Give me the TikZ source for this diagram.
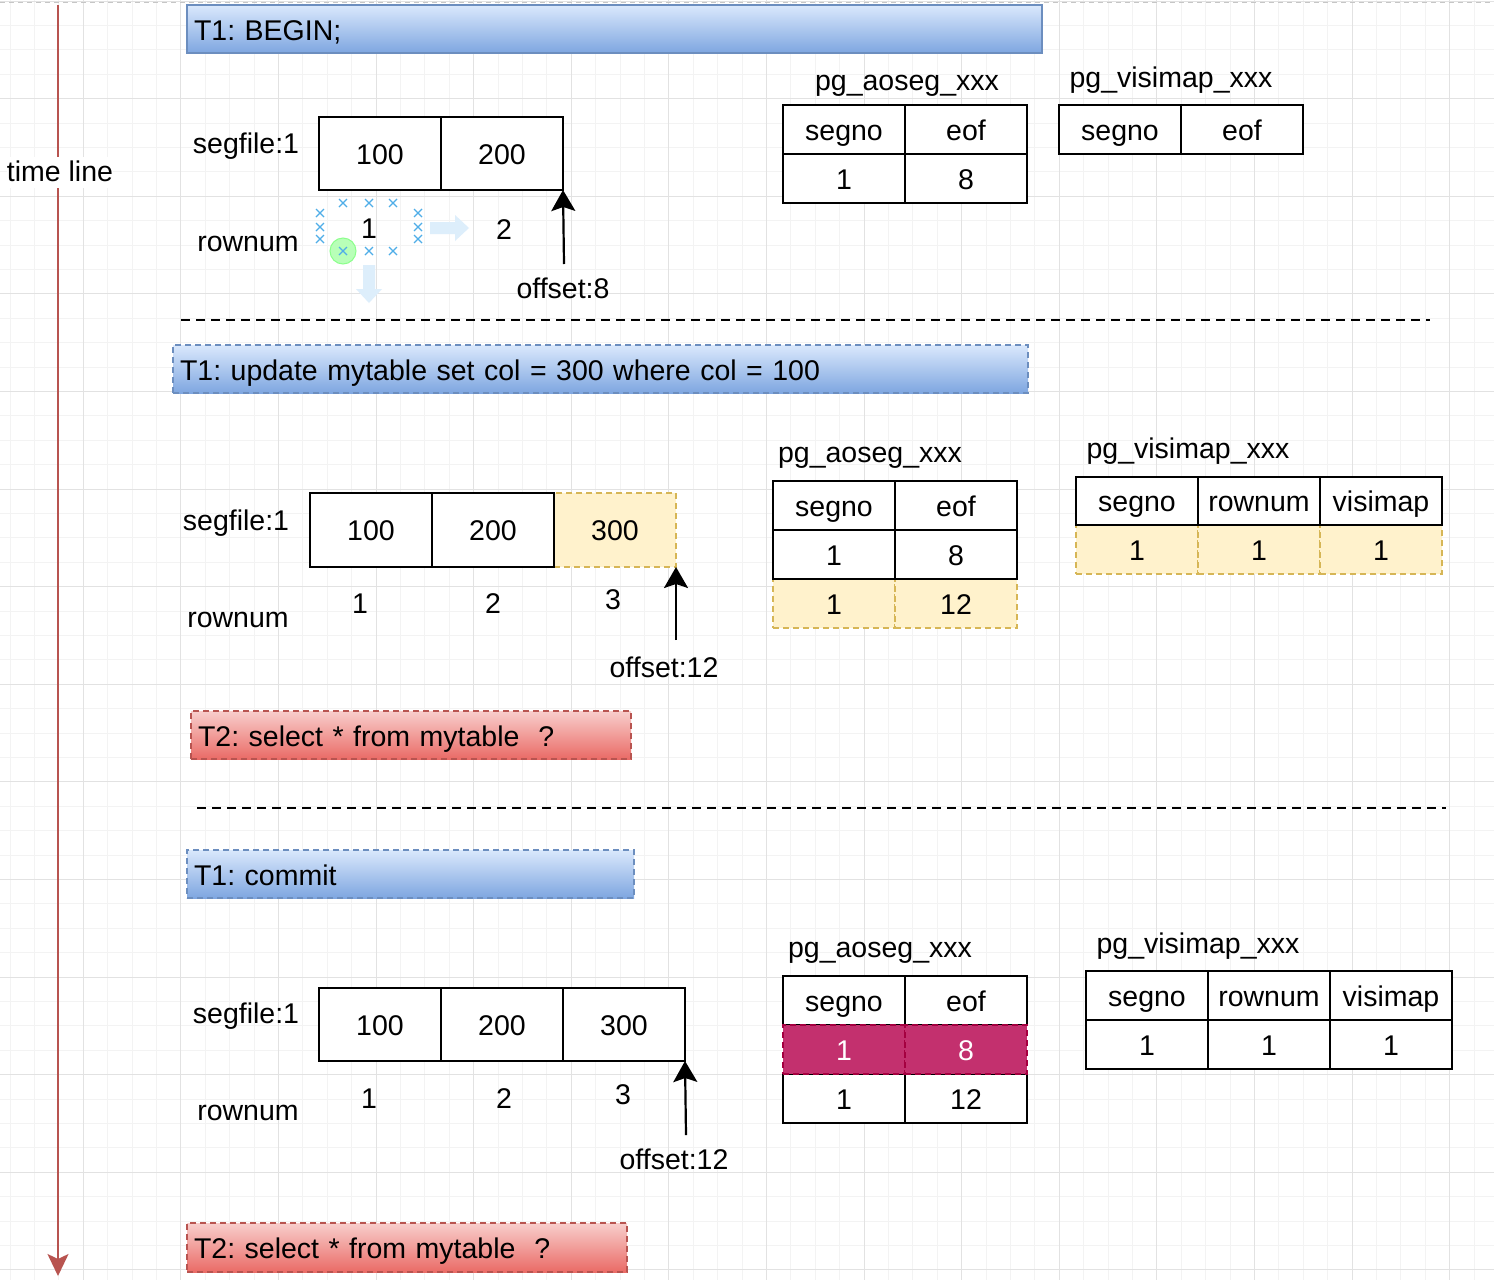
\documentclass[tikz,border=0pt]{standalone}
\usepackage{fontspec}
\setmainfont{Liberation Sans}
\usetikzlibrary{arrows.meta}
\definecolor{bluestroke}{HTML}{6C8EBF}
\definecolor{bluetop}{HTML}{DAE8FC}
\definecolor{bluebot}{HTML}{7EA6E0}
\definecolor{redstroke}{HTML}{B85450}
\definecolor{redtop}{HTML}{F8CECC}
\definecolor{redbot}{HTML}{EA6B66}
\definecolor{ylwfill}{HTML}{FFF2CC}
\definecolor{ylwstroke}{HTML}{D6B656}
\definecolor{magfill}{HTML}{C3306E}
\definecolor{magstroke}{HTML}{A50040}
\definecolor{selblue}{HTML}{4FAEE8}
\definecolor{selarrow}{HTML}{DDEEFB}
\definecolor{gridminor}{HTML}{F3F3F3}
\definecolor{gridmajor}{HTML}{E2E2E2}
\frenchspacing
\begin{document}
\begin{tikzpicture}[x=1pt,y=-1pt,
  font=\fontsize{28.5}{32}\selectfont,
  lbl/.style={inner sep=0pt, outer sep=0pt, anchor=base},
  cell/.style={draw=black, line width=2pt, minimum width=122pt, minimum height=49pt,
    inner sep=0pt, outer sep=0pt, anchor=north west, fill=white, text height=27pt, text depth=6pt},
  ycell/.style={cell, draw=ylwstroke, fill=ylwfill, dash pattern=on 6pt off 4pt},
  mcell/.style={cell, draw=magstroke, fill=magfill, text=white, dash pattern=on 6pt off 4pt},
  bluebanner/.style={draw=bluestroke, line width=1.6pt, top color=bluetop, bottom color=bluebot,
    anchor=north west, inner xsep=7pt, inner ysep=0pt, outer sep=0pt, align=left, minimum height=48pt,
    text height=28pt, text depth=6pt},
  redbanner/.style={bluebanner, draw=redstroke, top color=redtop, bottom color=redbot},
  dsh/.style={dash pattern=on 6pt off 4pt},
  sep/.style={draw=black, line width=2pt, dash pattern=on 9pt off 6pt},
  ptr/.style={draw=black, line width=2.2pt, -{Stealth[length=21pt,width=24pt,inset=4pt]}},
  tline/.style={draw=redstroke, line width=2pt, -{Stealth[length=22pt,width=21pt,inset=5pt]}},
  selx/.style={draw=selblue, line width=1.3pt}
]
\useasboundingbox (0,0) rectangle (1494,1280);
\fill[white] (0,0) rectangle (1494,1280);
% grid
\foreach \i in {0,...,60} \draw[gridminor, line width=1pt] ({10+\i*24.4},0) -- ({10+\i*24.4},1280);
\foreach \j in {0,...,52} \draw[gridminor, line width=1pt] (0,{1+\j*24.4}) -- (1494,{1+\j*24.4});
\foreach \i in {0,...,14} \draw[gridmajor, line width=1pt] ({83.2+\i*97.6},0) -- ({83.2+\i*97.6},1280);
\foreach \j in {0,...,13} \draw[gridmajor, line width=1pt] (0,{1+\j*97.6}) -- (1494,{1+\j*97.6});
\draw[gray!45, line width=1pt, dash pattern=on 5pt off 4pt] (0,2) -- (1494,2);

% time line
\coordinate (tl0) at (58,5);
\coordinate (tl1) at (58,1276);
\draw[tline] (tl0) -- (tl1);
\node[lbl, fill=white, inner ysep=3pt, text depth=4pt] (tlab) at (60,181) {time line};

% ---------------- section 1
\node[bluebanner, text width=841pt] (b1) at (187,5) {T1: BEGIN;};
\node[lbl] (seg1) at (246,153) {segfile:1};
\node[cell, minimum height=73pt] (a1) at (319,117) {100};
\node[cell, minimum height=73pt] (a2) at (441,117) {200};
\node[lbl] (rn1) at (248,251) {rownum};
% selection artifacts
\fill[green!28, draw=green!45, line width=1pt] (343,251) circle (13);
\foreach \p in {(343,203),(369,203),(393,203),(320,213),(320,227),(320,239),(418,213),(418,227),(418,239),(343,251),(369,251),(393,251)}
  \draw[selx] \p ++(-4,-4) -- ++(8,8) \p ++(-4,4) -- ++(8,-8);
\fill[selarrow] (430,222) -- (455,222) -- (455,215) -- (469,228) -- (455,241) -- (455,234) -- (430,234) -- cycle;
\fill[selarrow] (363,265) -- (375,265) -- (375,289) -- (382,289) -- (369,303) -- (356,289) -- (363,289) -- cycle;
\node[lbl] (r11) at (369,238) {1};
\node[lbl] (r12) at (504,239) {2};
\node[lbl] (off1) at (563,298) {offset:8};
\coordinate (o1) at (564,264);
\draw[ptr] (o1) -- (a2.south east);

\node[lbl] (ao1) at (907,90) {pg\_aoseg\_xxx};
\node[cell] (ao1h1) at (783,105) {segno};
\node[cell] (ao1h2) at (905,105) {eof};
\node[cell] (ao1r1) at (783,154) {1};
\node[cell] (ao1r2) at (905,154) {8};
\node[lbl] (vm1) at (1171,87) {pg\_visimap\_xxx};
\node[cell] (vm1h1) at (1059,105) {segno};
\node[cell] (vm1h2) at (1181,105) {eof};

\coordinate (s1a) at (181,320);
\coordinate (s1b) at (1430,320);
\draw[sep] (s1a) -- (s1b);

% ---------------- section 2
\node[bluebanner, dsh, text width=841pt] (b2) at (173,345) {T1: update mytable set col = 300 where col = 100};
\node[lbl] (seg2) at (236,530) {segfile:1};
\node[ycell, minimum height=74pt] (c3) at (554,493) {300};
\node[cell, minimum height=74pt] (c1) at (310,493) {100};
\node[cell, minimum height=74pt] (c2) at (432,493) {200};
\node[lbl] (rn2) at (238,627) {rownum};
\node[lbl] (r21) at (360,613) {1};
\node[lbl] (r22) at (493,613) {2};
\node[lbl] (r23) at (613,609) {3};
\node[lbl] (off2) at (664,677) {offset:12};
\coordinate (o2) at (676,640);
\draw[ptr] (o2) -- (c3.south east);

\node[lbl] (ao2) at (870,462) {pg\_aoseg\_xxx};
\node[ycell] (ao2y1) at (773,579) {1};
\node[ycell] (ao2y2) at (895,579) {12};
\node[cell] (ao2h1) at (773,481) {segno};
\node[cell] (ao2h2) at (895,481) {eof};
\node[cell] (ao2r1) at (773,530) {1};
\node[cell] (ao2r2) at (895,530) {8};

\node[lbl] (vm2) at (1188,458) {pg\_visimap\_xxx};
\node[ycell] (vm2y1) at (1076,525) {1};
\node[ycell] (vm2y2) at (1198,525) {1};
\node[ycell] (vm2y3) at (1320,525) {1};
\node[cell, minimum height=48pt] (vm2h1) at (1076,477) {segno};
\node[cell, minimum height=48pt] (vm2h2) at (1198,477) {rownum};
\node[cell, minimum height=48pt] (vm2h3) at (1320,477) {visimap};

\node[redbanner, dsh, text width=426pt] (t21) at (191,711) {T2: select * from mytable\ \ ?};

\coordinate (s2a) at (197,808);
\coordinate (s2b) at (1446,808);
\draw[sep] (s2a) -- (s2b);

% ---------------- section 3
\node[bluebanner, dsh, text width=433pt] (b3) at (187,850) {T1: commit};
\node[lbl] (seg3) at (246,1023) {segfile:1};
\node[cell, minimum height=73pt] (d1) at (319,988) {100};
\node[cell, minimum height=73pt] (d2) at (441,988) {200};
\node[cell, minimum height=73pt] (d3) at (563,988) {300};
\node[lbl] (rn3) at (248,1120) {rownum};
\node[lbl] (r31) at (369,1108) {1};
\node[lbl] (r32) at (504,1108) {2};
\node[lbl] (r33) at (623,1104) {3};
\node[lbl] (off3) at (674,1169) {offset:12};
\coordinate (o3) at (686,1135);
\draw[ptr] (o3) -- (d3.south east);

\node[lbl] (ao3) at (880,957) {pg\_aoseg\_xxx};
\node[cell] (ao3h1) at (783,976) {segno};
\node[cell] (ao3h2) at (905,976) {eof};
\node[cell] (ao3r3) at (783,1074) {1};
\node[cell] (ao3r4) at (905,1074) {12};
\node[mcell] (ao3m1) at (783,1025) {1};
\node[mcell] (ao3m2) at (905,1025) {8};

\node[lbl] (vm3) at (1198,953) {pg\_visimap\_xxx};
\node[cell] (vm3h1) at (1086,971) {segno};
\node[cell] (vm3h2) at (1208,971) {rownum};
\node[cell] (vm3h3) at (1330,971) {visimap};
\node[cell] (vm3r1) at (1086,1020) {1};
\node[cell] (vm3r2) at (1208,1020) {1};
\node[cell] (vm3r3) at (1330,1020) {1};

\node[redbanner, dsh, text width=426pt, minimum height=49pt] (t22) at (187,1223) {T2: select * from mytable\ \ ?};
\end{tikzpicture}
\end{document}
